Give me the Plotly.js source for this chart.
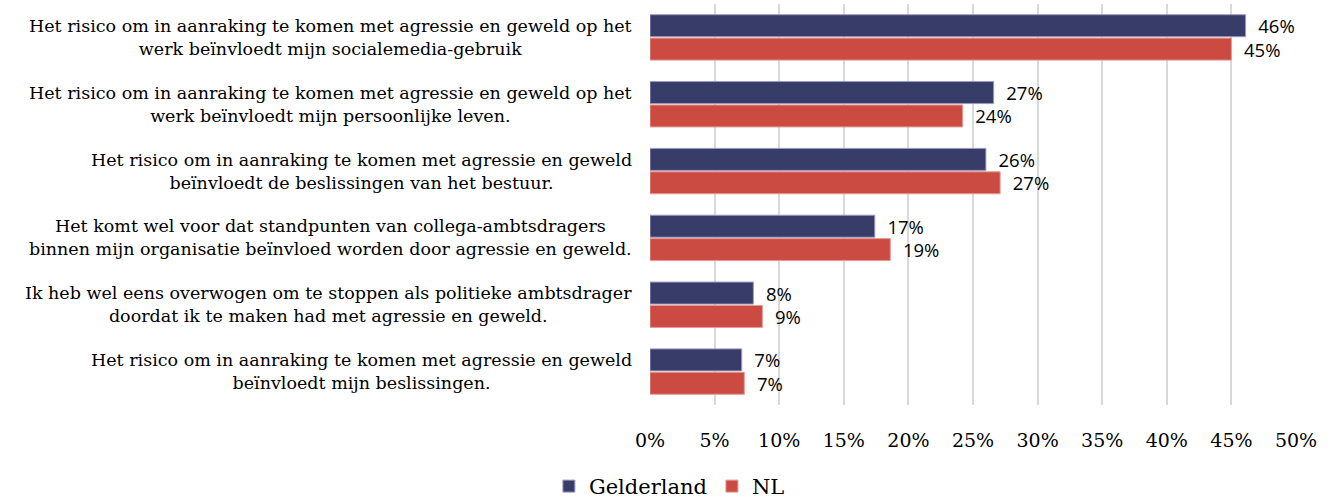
<!DOCTYPE html>
<html><head><meta charset="utf-8">
<script src="https://cdn.plot.ly/plotly-3.0.1.min.js"></script>
<style>body{margin:0;background:#fff}#chart{width:1332px;height:500px}</style>
</head><body><div id="chart"></div>
<script>
const categories = [
  "Het risico om in aanraking te komen met agressie en geweld op het<br>werk beïnvloedt mijn socialemedia-gebruik",
  "Het risico om in aanraking te komen met agressie en geweld op het<br>werk beïnvloedt mijn persoonlijke leven.",
  "Het risico om in aanraking te komen met agressie en geweld<br>beïnvloedt de beslissingen van het bestuur.",
  "Het komt wel voor dat standpunten van collega-ambtsdragers<br>binnen mijn organisatie beïnvloed worden door agressie en geweld.",
  "Ik heb wel eens overwogen om te stoppen als politieke ambtsdrager<br>doordat ik te maken had met agressie en geweld.",
  "Het risico om in aanraking te komen met agressie en geweld<br>beïnvloedt mijn beslissingen."
];
const gelderland = [46.1, 26.6, 26.0, 17.4, 8.0, 7.1];
const nl = [45.0, 24.2, 27.1, 18.6, 8.7, 7.3];
const tickVals = [0,5,10,15,20,25,30,35,40,45,50];
const tickText = ["0%","5%","10%","15%","20%","25%","30%","35%","40%","45%","50%"];

const serif = "DejaVu Serif";
const labelFont = {family: "Open Sans", size: 18.5, color: "#000"};

const traces = [
  {type: "bar", orientation: "h", name: "Gelderland", y: categories, x: gelderland,
   marker: {color: "#383c68", line: {color: "#9a9cc0", width: 1}},
   texttemplate: "\u00a0\u00a0%{x:.0f}%", textposition: "outside", textfont: labelFont,
   constraintext: "none", cliponaxis: false},
  {type: "bar", orientation: "h", name: "NL", y: categories, x: nl,
   marker: {color: "#cb4b43", line: {color: "#e89a94", width: 1}},
   texttemplate: "\u00a0\u00a0%{x:.0f}%", textposition: "outside", textfont: labelFont,
   constraintext: "none", cliponaxis: false}
];

const annotations = categories.map(c => ({
  xref: "paper", yref: "y", x: 0, y: c, text: c, showarrow: false,
  xanchor: "right", yanchor: "middle", align: "center", xshift: -16,
  font: {family: serif, size: 17.5, color: "#000"}
}));

const layout = {
  width: 1332, height: 500,
  margin: {l: 650, r: 36, t: 4, b: 95, autoexpand: false},
  paper_bgcolor: "#fff", plot_bgcolor: "#fff",
  barmode: "group", bargap: 0.3, bargroupgap: 0.06,
  showlegend: true,
  legend: {orientation: "h", x: 0.03, xanchor: "center", xref: "paper",
           yref: "paper", y: -0.152, yanchor: "top",
           font: {family: serif, size: 21, color: "#000"}, traceorder: "normal"},
  xaxis: {range: [0, 50], tickvals: tickVals, ticktext: tickText,
          showgrid: true, gridcolor: "#d9d9d9", gridwidth: 2, zeroline: false,
          showline: false, ticks: "outside", ticklen: 18, tickcolor: "rgba(0,0,0,0)",
          tickfont: {family: serif, size: 19, color: "#000"}, fixedrange: true},
  yaxis: {autorange: "reversed", showticklabels: false, showgrid: false, zeroline: false,
          type: "category", fixedrange: true},
  annotations: annotations
};

Plotly.newPlot("chart", traces, layout, {displayModeBar: false, staticPlot: true});
</script></body></html>
